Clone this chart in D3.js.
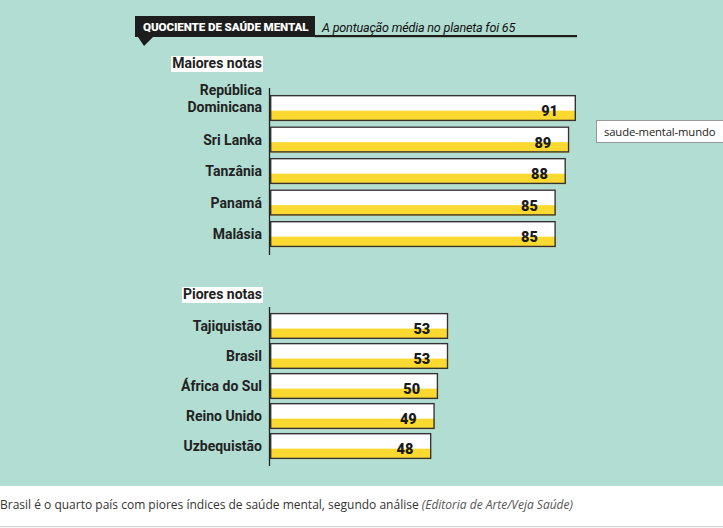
<!DOCTYPE html>
<html><head><meta charset="utf-8">
<script src="https://cdn.jsdelivr.net/npm/d3@7"></script>
<style>
html,body{margin:0;padding:0;background:#fff;}
svg{display:block;}
</style></head>
<body>
<svg id="chart" width="723" height="528"></svg>
<script>
const topCountries = [["República","Dominicana"],["Sri Lanka"],["Tanzânia"],["Panamá"],["Malásia"]];
const topValues = [91, 89, 88, 85, 85];
const bottomCountries = [["Tajiquistão"],["Brasil"],["África do Sul"],["Reino Unido"],["Uzbequistão"]];
const bottomValues = [53, 53, 50, 49, 48];
const titleText = "QUOCIENTE DE SAÚDE MENTAL";
const subtitleText = "A pontuação média no planeta foi 65";
const topHeader = "Maiores notas";
const bottomHeader = "Piores notas";
const captionMain = "Brasil é o quarto país com piores índices de saúde mental, segundo análise ";
const captionCredit = "(Editoria de Arte/Veja Saúde)";
const tagText = "saude-mental-mundo";

const svg = d3.select("#chart");
const FONT = "Roboto, 'Open Sans', sans-serif";
const TEAL = "#b1ddd3", YELLOW = "#fcd930", INK = "#222";

svg.append("rect").attr("x",0).attr("y",0).attr("width",723).attr("height",486).attr("fill",TEAL);

// title bar
const tb = svg.append("g");
tb.append("path").attr("d","M135,16 H315 V37 H153 L144,46 L138,37 H135 Z").attr("fill","#1d1d1d");
tb.append("rect").attr("x",315).attr("y",35).attr("width",262).attr("height",2.2).attr("fill","#1d1d1d");
tb.append("text").attr("x",143).attr("y",31).attr("fill","#fff").attr("font-family",FONT)
  .attr("font-weight",900).attr("font-size",11.6).attr("letter-spacing",-0.1).text(titleText);
tb.append("text").attr("x",322).attr("y",32).attr("fill","#111").attr("font-family",FONT)
  .attr("font-style","italic").attr("font-size",12.6).attr("letter-spacing",-0.2).text(subtitleText);

const x = d3.scaleLinear().domain([0, 91]).range([270, 576]);

function group(cats, vals, y0, y1, pad, header, headerY, axisTop, axisBot) {
  const keys = cats.map((c,i)=>i);
  const y = d3.scaleBand().domain(keys).range([y0,y1]).paddingInner(pad).paddingOuter(pad);
  const g = svg.append("g");
  const ht = g.append("text").attr("x",262).attr("y",headerY).attr("text-anchor","end")
    .attr("font-family",FONT).attr("font-weight",700).attr("font-size",14).attr("fill",INK).text(header);
  const bb = ht.node().getBBox();
  g.insert("rect","text").attr("x",bb.x-1).attr("y",headerY-12).attr("width",bb.width+2).attr("height",16).attr("fill","#fff");
  g.append("line").attr("x1",269.5).attr("x2",269.5).attr("y1",axisTop).attr("y2",axisBot)
    .attr("stroke","#222").attr("stroke-width",1.3);
  const bw = y.bandwidth();
  const row = g.selectAll("g.row").data(keys).join("g").attr("class","row");
  row.append("rect").attr("x",x(0)).attr("y",i=>y(i)).attr("width",i=>x(vals[i])-x(0)).attr("height",bw).attr("fill","#fff");
  row.append("rect").attr("x",x(0)).attr("y",i=>y(i)+bw*0.6).attr("width",i=>x(vals[i])-x(0)).attr("height",bw*0.4).attr("fill",YELLOW);
  row.append("rect").attr("x",x(0)+0.7).attr("y",i=>y(i)+0.7).attr("width",i=>x(vals[i])-x(0)-1.4).attr("height",bw-1.4)
    .attr("fill","none").attr("stroke","#333").attr("stroke-width",1.4);
  row.append("text").attr("x",i=>x(vals[i])-18).attr("y",i=>y(i)+bw*0.82).attr("text-anchor","end")
    .attr("font-family",FONT).attr("font-weight",900).attr("font-size",14.5).attr("fill","#1a1a1a").text(i=>vals[i]);
  row.each(function(i){
    const lines = cats[i];
    const t = d3.select(this).append("text").attr("text-anchor","end").attr("font-family",FONT)
      .attr("font-weight",700).attr("font-size",14).attr("fill",INK);
    const cy = y(i)+bw/2 + 5;
    lines.forEach((l,k)=>{
      t.append("tspan").attr("x",262).attr("y",cy-(lines.length-1-k)*17 - (lines.length>1?1:0)).text(l);
    });
  });
}
group(topCountries, topValues, 89.6, 252.5, 0.17, topHeader, 68, 88, 255);
group(bottomCountries, bottomValues, 309, 463, 0.13, bottomHeader, 299, 307, 466);

// tag box
svg.append("rect").attr("x",596.5).attr("y",120.5).attr("width",127).attr("height",22).attr("fill","#fff").attr("stroke","#999");
svg.append("text").attr("x",604).attr("y",136).attr("font-family","'Open Sans', sans-serif").attr("font-size",11.3)
  .attr("letter-spacing",-0.15).attr("fill","#222").text(tagText);

// caption
const cap = svg.append("text").attr("x",0).attr("y",509).attr("font-family","'Open Sans', sans-serif").attr("font-size",12).attr("fill","#333");
cap.append("tspan").text(captionMain);
cap.append("tspan").attr("font-style","italic").attr("fill","#555").text(captionCredit);
svg.append("rect").attr("x",0).attr("y",526).attr("width",723).attr("height",1.2).attr("fill","#d0d0d0");
</script>
</body></html>
